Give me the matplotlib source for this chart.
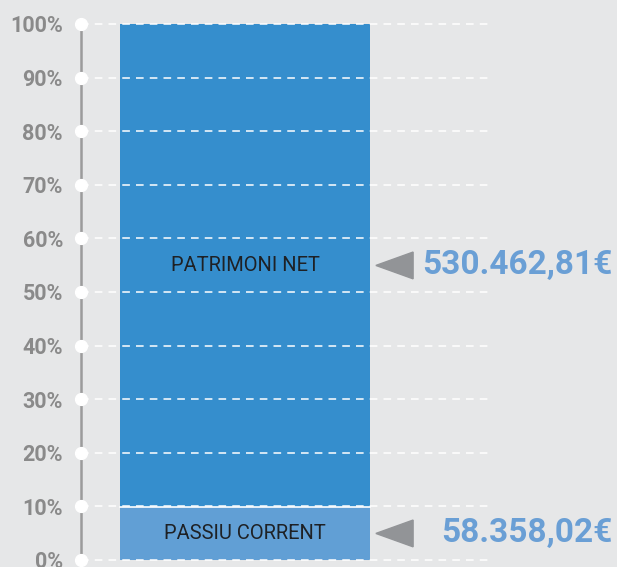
import matplotlib
matplotlib.use("Agg")
import matplotlib.pyplot as plt
from matplotlib.patches import Polygon

# Balance figures (EUR)
segments = ["PASSIU CORRENT", "PATRIMONI NET"]
amounts = [58358.02, 530462.81]
amount_labels = ["58.358,02€", "530.462,81€"]
seg_colors = ["#619fd5", "#358ecd"]
tick_values = [0, 10, 20, 30, 40, 50, 60, 70, 80, 90, 100]
tick_labels = [f"{v}%" for v in tick_values]

bg = "#e6e7e8"
total = sum(amounts)
shares = [a / total * 100 for a in amounts]

fig = plt.figure(figsize=(6.17, 5.67), dpi=100, facecolor=bg)
ax = fig.add_axes([81 / 617, 7 / 567, 409 / 617, 536 / 567])
ax.set_facecolor(bg)
ax.set_xlim(0, 1)
ax.set_ylim(0, 100)

bar_x, bar_w = 0.401, 0.611
bottom = 0
for seg, share, col in zip(segments, shares, seg_colors):
    ax.bar(bar_x, share, width=bar_w, bottom=bottom, color=col,
           linewidth=0, zorder=2)
    ax.text(bar_x, bottom + share / 2, seg, ha="center", va="center",
            fontsize=14.5, color="#1e2125", family="Roboto", zorder=4)
    bottom += share
# thin white seam between the two segments
ax.plot([bar_x - bar_w / 2, bar_x + bar_w / 2], [shares[0], shares[0]],
        color="white", lw=1.2, zorder=3)

# dashed gridlines over the bars
for v in tick_values:
    ax.plot([0, 1], [v, v], color="white", lw=1.1, ls=(0, (5, 4)),
            zorder=3, clip_on=False)

for s in ["top", "right", "bottom"]:
    ax.spines[s].set_visible(False)
ax.spines["left"].set_color("#9b9b9b")
ax.spines["left"].set_linewidth(1.8)
ax.set_xticks([])
ax.set_yticks(tick_values)
ax.set_yticklabels(tick_labels, fontsize=15.5, fontweight="bold",
                   color="#8a8a8a", family="Roboto")
ax.tick_params(axis="y", length=0, pad=13)
ax.plot([0] * len(tick_values), tick_values, "o", color="white",
        markersize=8.5, clip_on=False, zorder=5)

# arrows and amount labels
bottom = 0
for share, lab in zip(shares, amount_labels):
    yc = bottom + share / 2
    tri = Polygon([[0.721, yc], [0.812, yc + 2.5], [0.812, yc - 2.5]],
                  closed=True, color="#929497", clip_on=False, zorder=4)
    ax.add_patch(tri)
    ax.text(1.3, yc, lab, ha="right", va="center", fontsize=24,
            fontweight="bold", color="#6a9fd5", family="Roboto",
            clip_on=False)
    bottom += share

fig.savefig("out.png", dpi=100, facecolor=bg)
